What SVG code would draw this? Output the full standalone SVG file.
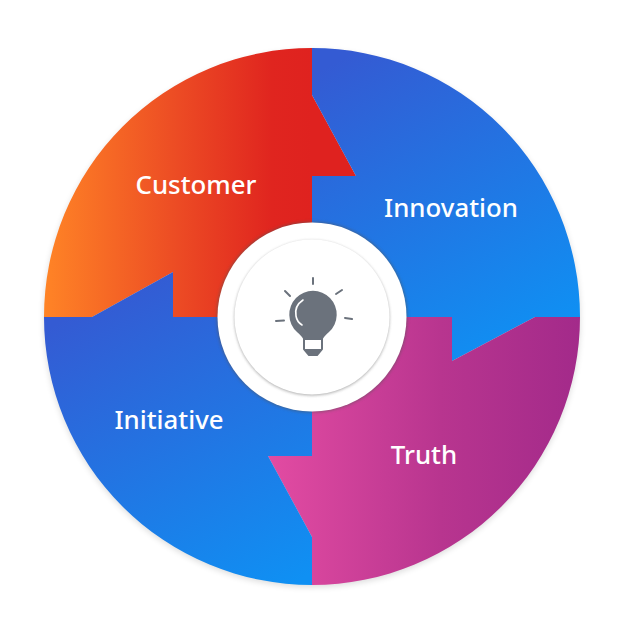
<svg xmlns="http://www.w3.org/2000/svg" width="640" height="640" viewBox="0 0 640 640">
<style>
.lbl{font-family:"Noto Sans","Open Sans",sans-serif;font-size:25.8px;font-weight:500;fill:#fff;text-anchor:middle}
.ray{fill:none;stroke:#6b727c;stroke-width:2;stroke-linecap:round}
</style>
<defs>
<linearGradient id="gRed" gradientUnits="userSpaceOnUse" x1="44" y1="190" x2="312" y2="190"><stop offset="0" stop-color="#ff8426"/><stop offset=".5" stop-color="#ec4b24"/><stop offset=".85" stop-color="#e0251f"/><stop offset="1" stop-color="#df221f"/></linearGradient>
<linearGradient id="gBlueA" gradientUnits="userSpaceOnUse" x1="340" y1="60" x2="500" y2="360"><stop offset="0" stop-color="#345bd3"/><stop offset="1" stop-color="#0f90f3"/></linearGradient>
<linearGradient id="gBlueB" gradientUnits="userSpaceOnUse" x1="120" y1="290" x2="280" y2="590"><stop offset="0" stop-color="#345bd3"/><stop offset="1" stop-color="#0f90f3"/></linearGradient>
<linearGradient id="gPur" gradientUnits="userSpaceOnUse" x1="270" y1="450" x2="580" y2="450"><stop offset="0" stop-color="#e24ba2"/><stop offset=".55" stop-color="#b8358f"/><stop offset="1" stop-color="#a32a8a"/></linearGradient>
<filter id="sh" x="-20%" y="-20%" width="140%" height="140%"><feGaussianBlur stdDeviation="1.5"/></filter>
<filter id="out" x="-10%" y="-10%" width="120%" height="120%"><feGaussianBlur stdDeviation="3"/></filter>
</defs>
<circle cx="312" cy="319" r="268" fill="#000" opacity=".14" filter="url(#out)"/>
<g id="customer">
<path d="M312 48V95L356 176H312V317H173V272L92 317H44A268 269 0 0 1 312 48Z" fill="url(#gRed)"/>
<text class="lbl" x="196" y="194">Customer</text>
</g>
<g id="innovation">
<path d="M312 48A268 269 0 0 1 580 317H535L452 361V317H312V176H356L312 95Z" fill="url(#gBlueA)"/>
<text class="lbl" x="451" y="217">Innovation</text>
</g>
<g id="truth">
<path d="M580 317A268 268 0 0 1 312 585V537L268 456H312V317H452V361L535 317Z" fill="url(#gPur)"/>
<text class="lbl" x="424" y="464">Truth</text>
</g>
<g id="initiative">
<path d="M44 317A268 268 0 0 0 312 585V537L268 456H312V317H173V272L92 317Z" fill="url(#gBlueB)"/>
<text class="lbl" x="169" y="429">Initiative</text>
</g>
<g id="hub">
<circle cx="312" cy="317" r="95.500" fill="#555" opacity=".5" filter="url(#sh)"/>
<circle cx="312" cy="317" r="94.500" fill="#fff"/>
<circle cx="312" cy="318" r="77.500" fill="#777" opacity=".6" filter="url(#sh)"/>
<circle cx="312" cy="317" r="77.500" fill="#fff"/>
<path d="M297 332A23.700 23.700 0 1 1 329 332Q323 337 322 341H304Q303 337 297 332Z" fill="#6b727c"/>
<path d="M304 339H322V349L317 355H309L304 349Z" fill="#fff" stroke="#6b727c" stroke-width="2" stroke-linejoin="round"/>
<path d="M304 349H322L317 355H309Z" fill="#6b727c"/>
<path d="M303 300Q294 306 296 316Q297 322 302 325" fill="none" stroke="#fff" stroke-width="1.600" stroke-linecap="round"/>
<path class="ray" d="M313 278V284M285 291L290 296M342 290L336 294M276 321L284 320.500M345 318L352 319"/>
</g>
</svg>
